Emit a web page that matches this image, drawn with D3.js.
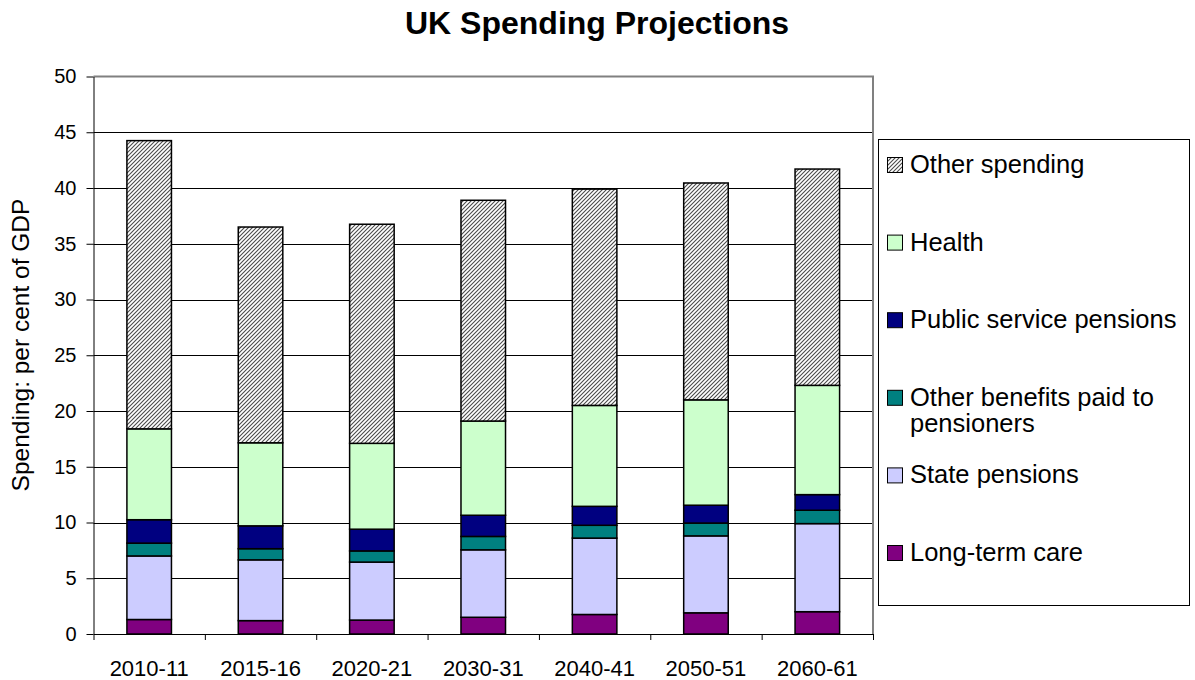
<!DOCTYPE html>
<html>
<head>
<meta charset="utf-8">
<script src="https://cdn.jsdelivr.net/npm/d3@7"></script>
<style>
  body { margin: 0; background: #fff; }
  svg { font-family: "Liberation Sans", Arial, sans-serif; }
</style>
</head>
<body>
<div id="chart"></div>
<script>
// values, per cent of GDP
var categories = ["2010-11", "2015-16", "2020-21", "2030-31", "2040-41", "2050-51", "2060-61"]
var longTermCare = [1.3, 1.2, 1.25, 1.5, 1.75, 1.9, 2.0]
var statePensions = [5.7, 5.45, 5.2, 6.05, 6.85, 6.9, 7.9]
var otherBenefits = [1.15, 1.0, 1.0, 1.2, 1.15, 1.15, 1.2]
var publicServicePensions = [2.1, 2.05, 1.95, 1.9, 1.7, 1.6, 1.4]
var health = [8.15, 7.45, 7.7, 8.45, 9.05, 9.45, 9.8]
var otherSpending = [25.85, 19.35, 19.65, 19.8, 19.4, 19.45, 19.4]
var yTicks = [0, 5, 10, 15, 20, 25, 30, 35, 40, 45, 50]

// bottom to top
var seriesKeys = ["ltc", "state", "benefits", "psp", "health", "other"]
var seriesValues = [longTermCare, statePensions, otherBenefits, publicServicePensions, health, otherSpending]
var seriesLabels = [["Long-term care"], ["State pensions"], ["Other benefits paid to", "pensioners"],
    ["Public service pensions"], ["Health"], ["Other spending"]]
var seriesFills = ["#800080", "#ccccff", "#008080", "#000080", "#ccffcc", "url(#hatch)"]

var width = 1195
var height = 680
var margins = ({ top: 76.5, right: 322, bottom: 46, left: 93.5 })

var rows = categories.map(function(c, i) {
    var row = { cat: c }
    seriesKeys.forEach(function(k, j) { row[k] = seriesValues[j][i] })
    return row
})
var stacked = d3.stack().keys(seriesKeys)(rows)

var svg = d3.select("#chart").append("svg")
    .attr("width", width)
    .attr("height", height)

var pattern = svg.append("defs").append("pattern")
    .attr("id", "hatch")
    .attr("patternUnits", "userSpaceOnUse")
    .attr("width", 4)
    .attr("height", 4)
pattern.append("rect").attr("width", 4).attr("height", 4).attr("fill", "#fff")
pattern.append("path")
    .attr("d", "M-1,1 l2,-2 M0,4 l4,-4 M3,5 l2,-2")
    .attr("stroke", "#4a4a4a")
    .attr("stroke-width", 1.1)

var plotLeft = margins.left
var plotRight = width - margins.right
var plotBottom = height - margins.bottom

var x = d3.scaleBand()
    .domain(categories)
    .range([plotLeft, plotRight])
    .paddingInner(0.6)
    .paddingOuter(0.3)
var xEdges = d3.scaleLinear().domain([0, categories.length]).range([plotLeft, plotRight])
var y = d3.scaleLinear().domain([0, 50]).range([plotBottom, margins.top])

// grid
svg.append("g")
    .selectAll("line")
    .data(yTicks.filter(function(d) { return d > 0 && d < 50 }))
    .enter()
    .append("line")
    .attr("x1", plotLeft).attr("x2", plotRight)
    .attr("y1", function(d) { return Math.round(y(d)) + 0.5 })
    .attr("y2", function(d) { return Math.round(y(d)) + 0.5 })
    .attr("stroke", "#000")
    .attr("stroke-width", 1)

// top and right frame in grey
svg.append("path")
    .attr("d", `M${plotLeft},${y(50)} H${plotRight} V${plotBottom}`)
    .attr("fill", "none")
    .attr("stroke", "#808080")
    .attr("stroke-width", 2)

// bars
svg.append("g")
    .selectAll("g")
    .data(stacked)
    .enter()
    .append("g")
    .attr("fill", function(d, i) { return seriesFills[i] })
    .selectAll("rect")
    .data(function(d) { return d })
    .enter()
    .append("rect")
    .attr("x", function(d) { return x(d.data.cat) })
    .attr("y", function(d) { return y(d[1]) })
    .attr("width", x.bandwidth())
    .attr("height", function(d) { return y(d[0]) - y(d[1]) })
    .attr("stroke", "#000")
    .attr("stroke-width", 1.5)

// axes
var yAxis = svg.append("g")
    .attr("transform", `translate(${plotLeft},0)`)
    .call(d3.axisLeft(y).tickValues(yTicks).tickSize(7).tickPadding(10).tickSizeOuter(0))
yAxis.selectAll("text").attr("font-size", 20).attr("fill", "#000").attr("font-family", null)
yAxis.select(".domain").attr("stroke", "#000")

svg.append("g")
    .attr("transform", `translate(0,${plotBottom})`)
    .call(d3.axisBottom(xEdges).tickValues(d3.range(categories.length + 1)).tickFormat("").tickSize(6).tickSizeOuter(0))
    .select(".domain").attr("stroke", "#000")

var xAxis = svg.append("g")
    .attr("transform", `translate(0,${plotBottom})`)
    .call(d3.axisBottom(x).tickSize(0).tickPadding(26))
xAxis.select(".domain").remove()
xAxis.selectAll("text").attr("font-size", 22).attr("fill", "#000").attr("font-family", null)

// titles
svg.append("text")
    .attr("x", 597)
    .attr("y", 34)
    .attr("text-anchor", "middle")
    .attr("font-size", 32)
    .attr("font-weight", "bold")
    .text("UK Spending Projections")

svg.append("text")
    .attr("transform", "translate(29,345) rotate(-90)")
    .attr("text-anchor", "middle")
    .attr("font-size", 24.5)
    .text("Spending: per cent of GDP")

// legend, top item is the top of the stack
var legend = svg.append("g")
legend.append("rect")
    .attr("x", 878.5).attr("y", 139.5)
    .attr("width", 311).attr("height", 466)
    .attr("fill", "#fff")
    .attr("stroke", "#000")
    .attr("stroke-width", 1)

var legendOrder = d3.range(seriesKeys.length).reverse()
var items = legend.selectAll(".item")
    .data(legendOrder)
    .enter()
    .append("g")
    .attr("class", "item")
    .attr("transform", function(d, i) { return `translate(0,${173 + i * 77.6})` })

items.append("rect")
    .attr("x", 887.5).attr("y", -15.5)
    .attr("width", 15).attr("height", 15)
    .attr("fill", function(d) { return seriesFills[d] })
    .attr("stroke", "#000")
    .attr("stroke-width", 1)

items.append("text")
    .attr("x", 910)
    .attr("font-size", 25.5)
    .selectAll("tspan")
    .data(function(d) { return seriesLabels[d] })
    .enter()
    .append("tspan")
    .attr("x", 910)
    .attr("y", function(d, i) { return i * 26 })
    .text(function(d) { return d })
</script>
</body>
</html>
